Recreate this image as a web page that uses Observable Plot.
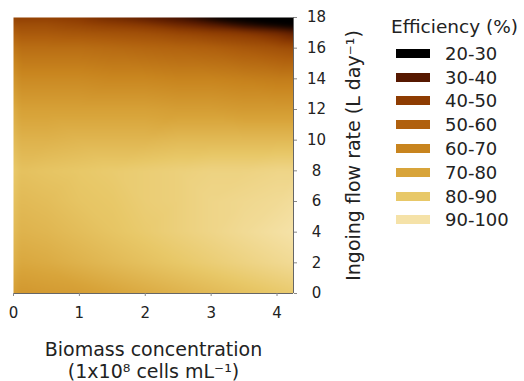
<!DOCTYPE html>
<html>
<head>
<meta charset="utf-8">
<script src="https://cdn.jsdelivr.net/npm/d3@7"></script>
<script src="https://cdn.jsdelivr.net/npm/@observablehq/plot@0.6"></script>
<style>
  html, body { margin: 0; padding: 0; background: #fff; }
  #wrap { position: relative; width: 524px; height: 381px; overflow: hidden; font-family: "DejaVu Sans", sans-serif; color: #222; }
  #chart { position: absolute; left: 0; top: 0; }
  #legend { position: absolute; left: 391px; top: 0; }
  #legend .title { position: absolute; left: 0; top: 15px; font-size: 18.5px; white-space: nowrap; line-height: 24px; }
  #legend .item { position: absolute; left: 5px; height: 22px; display: flex; align-items: center; white-space: nowrap; }
  #legend .sw { width: 34px; height: 9px; margin-right: 15px; filter: blur(0.6px); }
  #legend .lab { font-size: 18px; }
</style>
</head>
<body>
<div id="wrap"><div id="chart"></div><div id="legend"></div></div>
<script>
// Grid coordinates (biomass, flow rate)
const biomass = [0, 0.1, 0.5, 1, 1.5, 2, 2.5, 3, 3.5, 4, 4.25];
const flowRate = [0, 2, 4, 6, 8, 10, 12, 14, 16, 17, 17.5, 18];
// Efficiency (%) per flow-rate row, per biomass column
const efficiency = [
  [74, 71, 72, 73, 75, 77, 79, 81, 83, 85, 86],
  [79, 76, 77, 79, 81, 83, 85, 87, 89, 91, 92],
  [82, 79, 80, 82, 84, 86, 88, 90, 92, 94, 95],
  [84, 81, 82, 84, 85, 87, 88, 90, 91, 92, 93],
  [86, 83, 84, 85, 86, 87, 88, 89, 89, 90, 90],
  [82, 79, 79, 80, 80, 80, 81, 81, 81, 81, 81],
  [78, 74, 74, 74, 74, 74, 73, 73, 72, 72, 72],
  [71, 67, 67, 67, 66, 66, 65, 65, 64, 63, 63],
  [62, 59, 59, 59, 58, 57, 56, 55, 53, 51, 50],
  [55, 53, 53, 52, 51, 50, 48, 46, 44, 40, 37],
  [51, 50, 50, 48, 46, 44, 40, 36, 30, 26, 24],
  [47, 46, 46, 44, 40, 36, 32, 26, 23, 22, 22]
];
// Legend classes and colours
const classLabels = ["20-30", "30-40", "40-50", "50-60", "60-70", "70-80", "80-90", "90-100"];
const classMids = [25, 35, 45, 55, 65, 75, 85, 95];
const classColors = ["#000000", "#561800", "#8e3c02", "#b0600e", "#c8841e", "#d8a43a", "#e8c868", "#f5e2a8"];
const xTicks = [0, 1, 2, 3, 4];
const yTicks = [0, 2, 4, 6, 8, 10, 12, 14, 16, 18];
const xDomain = [0, 4.25];
const yDomain = [0, 18];
const xTitle = "Biomass concentration\n(1x10⁸ cells mL⁻¹)";
const yTitle = "Ingoing flow rate (L day⁻¹)";
const legendTitle = "Efficiency (%)";

const grid = flowRate.flatMap((y, i) => biomass.map((x, j) => ({x, y, e: efficiency[i][j]})));

const plot = Plot.plot({
  width: 380,
  height: 381,
  marginLeft: 13,
  marginRight: 87,
  marginTop: 17,
  marginBottom: 88,
  style: {fontFamily: "DejaVu Sans, sans-serif", fontSize: "15px", color: "#222", background: "transparent", overflow: "visible"},
  x: {domain: xDomain},
  y: {domain: yDomain},
  color: {type: "linear", domain: classMids, range: classColors, clamp: true},
  marks: [
    Plot.raster(grid, {x: "x", y: "y", fill: "e", interpolate: "barycentric", x1: xDomain[0], x2: xDomain[1], y1: yDomain[0], y2: yDomain[1], blur: 2}),
    Plot.ruleY([yDomain[0]], {stroke: "#666"}),
    Plot.ruleX([xDomain[1]], {stroke: "#666"}),
    Plot.axisX({ticks: xTicks, tickFormat: "d", tickSize: 3, tickPadding: 11, stroke: "#888", label: null, fontSize: 15}),
    Plot.axisY({ticks: yTicks, tickFormat: "d", anchor: "right", tickSize: 3, tickPadding: 20, textAnchor: "middle", stroke: "#888", label: null, fontSize: 15}),
    Plot.text([xTitle], {frameAnchor: "bottom", lineAnchor: "top", dy: 47, fontSize: 19, lineHeight: 1.15, fill: "#222"}),
    Plot.text([yTitle], {x: () => xDomain[1], y: () => (yDomain[0] + yDomain[1]) / 2, rotate: -90, textAnchor: "middle", lineAnchor: "middle", dx: 60, fontSize: 19, fill: "#222"})
  ]
});
document.getElementById("chart").appendChild(plot);

const legend = document.getElementById("legend");
const t = document.createElement("div");
t.className = "title"; t.textContent = legendTitle; legend.appendChild(t);
const itemTops = [53.3, 77.1, 100.9, 124.7, 148.5, 172.3, 196.1, 219.9];
classLabels.forEach((lab, i) => {
  const it = document.createElement("div");
  it.className = "item";
  it.style.top = (itemTops[i] - 11) + "px";
  const sw = document.createElement("div");
  sw.className = "sw"; sw.style.background = classColors[i];
  const tx = document.createElement("span");
  tx.className = "lab"; tx.textContent = lab;
  it.appendChild(sw); it.appendChild(tx);
  legend.appendChild(it);
});
</script>
</body>
</html>
